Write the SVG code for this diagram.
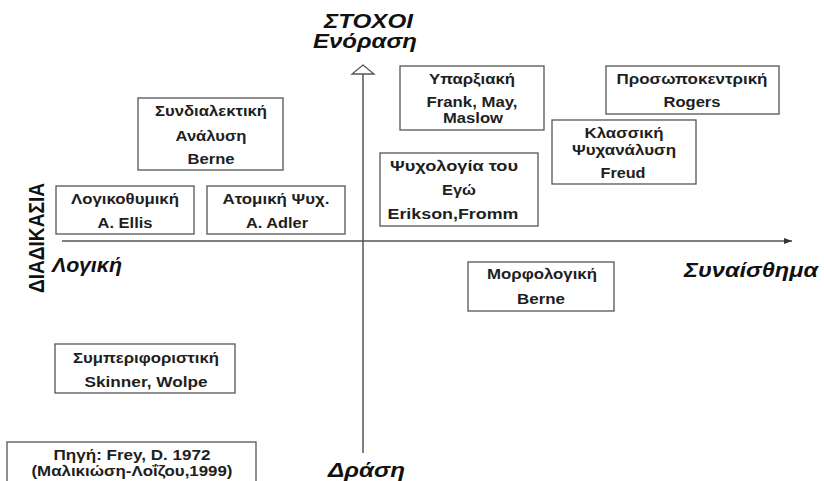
<svg xmlns="http://www.w3.org/2000/svg" width="824" height="481" viewBox="0 0 824 481">
<style>
.box{fill:#fff;stroke:#555;stroke-width:1.3}
.t{font-family:"Liberation Sans",Arial,sans-serif;font-weight:bold;font-size:14px;fill:#1e1e1e;text-anchor:middle}
.lab{font-family:"Liberation Sans",Arial,sans-serif;font-weight:bold;font-style:italic;font-size:19.5px;fill:#111}
.axis{stroke:#555;stroke-width:1.5;fill:none}
</style>
<defs>
<marker id="fa" markerWidth="8" markerHeight="6" refX="8" refY="3" orient="auto" markerUnits="userSpaceOnUse">
<path d="M0,0 L8,3 L0,6 Z" fill="#333"/>
</marker>
</defs>
<rect width="824" height="481" fill="#fff"/>
<g id="connectors">
<line class="axis" x1="62" y1="241" x2="792" y2="241" marker-end="url(#fa)"/>
<line class="axis" x1="363" y1="74" x2="363" y2="453"/>
<path d="M363,65 L374,74 L352,74 Z" fill="#fff" stroke="#555" stroke-width="1.3"/>
</g>
<g id="labels">
<text class="lab" x="324" y="28" textLength="89" lengthAdjust="spacingAndGlyphs">ΣΤΟΧΟΙ</text>
<text class="lab" x="313" y="48" textLength="104" lengthAdjust="spacingAndGlyphs">Ενόραση</text>
<text class="lab" x="52" y="272" textLength="70" lengthAdjust="spacingAndGlyphs">Λογική</text>
<text class="lab" x="684" y="277" textLength="134" lengthAdjust="spacingAndGlyphs">Συναίσθημα</text>
<text class="lab" x="328" y="477" textLength="77" lengthAdjust="spacingAndGlyphs">Δράση</text>
<text font-family="'Liberation Sans',Arial,sans-serif" font-weight="bold" font-size="22" fill="#111" transform="translate(44,293) rotate(-90)" textLength="110" lengthAdjust="spacingAndGlyphs">ΔΙΑΔΙΚΑΣΙΑ</text>
</g>
<g id="syndialektiki">
<rect class="box" x="138" y="98" width="145" height="72"/>
<text class="t" x="211" y="116" textLength="112" lengthAdjust="spacingAndGlyphs">Συνδιαλεκτική</text>
<text class="t" x="211" y="141" textLength="71" lengthAdjust="spacingAndGlyphs">Ανάλυση</text>
<text class="t" x="211" y="164" textLength="47" lengthAdjust="spacingAndGlyphs">Berne</text>
</g>
<g id="logikothymiki">
<rect class="box" x="56" y="186" width="138" height="48"/>
<text class="t" x="125" y="204" textLength="108" lengthAdjust="spacingAndGlyphs">Λογικοθυμική</text>
<text class="t" x="125" y="228" textLength="55" lengthAdjust="spacingAndGlyphs">A. Ellis</text>
</g>
<g id="atomiki">
<rect class="box" x="207" y="186" width="138" height="48"/>
<text class="t" x="276" y="204" textLength="107" lengthAdjust="spacingAndGlyphs">Ατομική Ψυχ.</text>
<text class="t" x="277" y="228" textLength="62" lengthAdjust="spacingAndGlyphs">A. Adler</text>
</g>
<g id="yparxiaki">
<rect class="box" x="400" y="66" width="144" height="64"/>
<text class="t" x="472" y="84" textLength="86" lengthAdjust="spacingAndGlyphs">Υπαρξιακή</text>
<text class="t" x="472" y="107" textLength="91" lengthAdjust="spacingAndGlyphs">Frank, May,</text>
<text class="t" x="473" y="123" textLength="60" lengthAdjust="spacingAndGlyphs">Maslow</text>
</g>
<g id="prosopokentriki">
<rect class="box" x="606" y="66" width="173" height="48"/>
<text class="t" x="692" y="84" textLength="151" lengthAdjust="spacingAndGlyphs">Προσωποκεντρική</text>
<text class="t" x="692" y="107" textLength="57" lengthAdjust="spacingAndGlyphs">Rogers</text>
</g>
<g id="klassiki">
<rect class="box" x="552" y="120" width="144" height="64"/>
<text class="t" x="624" y="138" textLength="79" lengthAdjust="spacingAndGlyphs">Κλασσική</text>
<text class="t" x="624" y="155" textLength="104" lengthAdjust="spacingAndGlyphs">Ψυχανάλυση</text>
<text class="t" x="623" y="178" textLength="45" lengthAdjust="spacingAndGlyphs">Freud</text>
</g>
<g id="ego">
<rect class="box" x="380" y="153" width="158" height="73"/>
<text class="t" x="454" y="171" textLength="128" lengthAdjust="spacingAndGlyphs">Ψυχολογία του</text>
<text class="t" x="459" y="195" textLength="34" lengthAdjust="spacingAndGlyphs">Εγώ</text>
<text class="t" x="453" y="219" textLength="131" lengthAdjust="spacingAndGlyphs">Erikson,Fromm</text>
</g>
<g id="morfologiki">
<rect class="box" x="468" y="262" width="146" height="49"/>
<text class="t" x="542" y="279" textLength="110" lengthAdjust="spacingAndGlyphs">Μορφολογική</text>
<text class="t" x="541" y="304" textLength="48" lengthAdjust="spacingAndGlyphs">Berne</text>
</g>
<g id="symperiforistiki">
<rect class="box" x="55" y="344" width="180" height="49"/>
<text class="t" x="146" y="363" textLength="146" lengthAdjust="spacingAndGlyphs">Συμπεριφοριστική</text>
<text class="t" x="146" y="387" textLength="123" lengthAdjust="spacingAndGlyphs">Skinner, Wolpe</text>
</g>
<g id="pigi">
<rect class="box" x="7" y="442" width="249" height="45"/>
<text class="t" x="132" y="460" textLength="157" lengthAdjust="spacingAndGlyphs">Πηγή: Frey, D. 1972</text>
<text class="t" x="132" y="476" textLength="201" lengthAdjust="spacingAndGlyphs">(Μαλικιώση-Λοΐζου,1999)</text>
</g>
</svg>
